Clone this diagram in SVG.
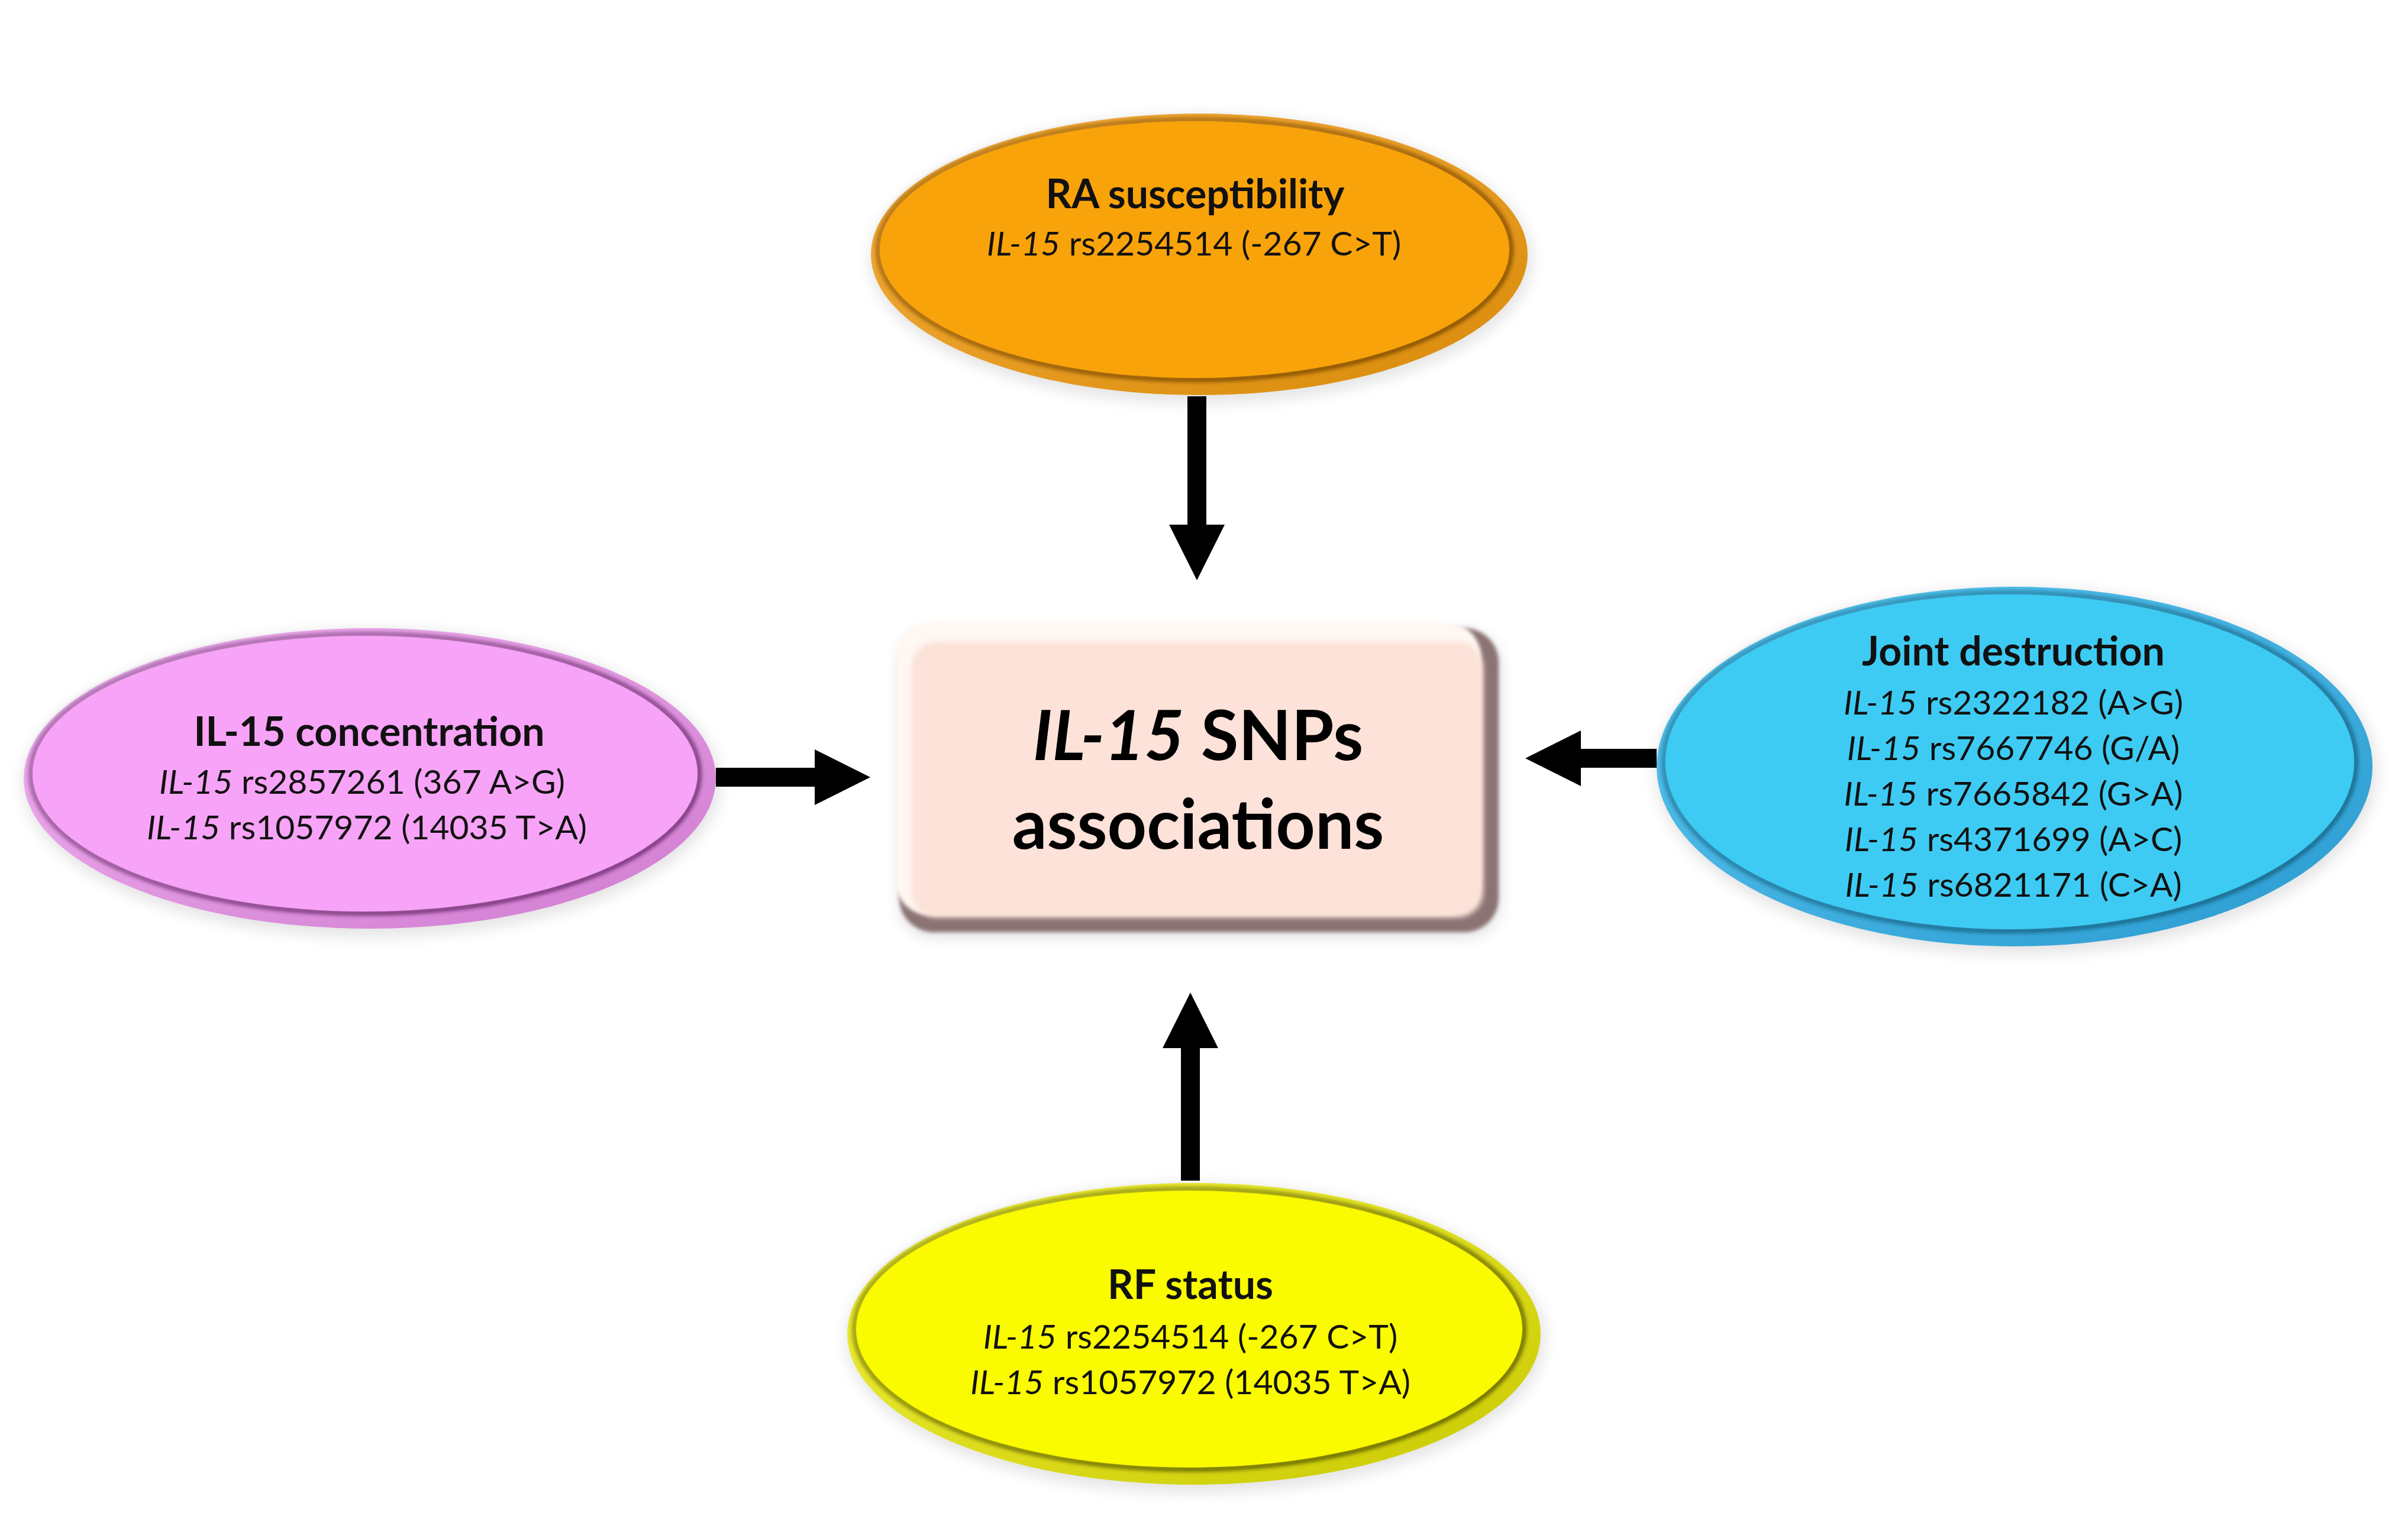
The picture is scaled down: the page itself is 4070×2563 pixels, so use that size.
<svg xmlns="http://www.w3.org/2000/svg" width="4070" height="2563" viewBox="0 0 4070 2563">
<style>
  .hd { font-family: Lato, "Liberation Sans", sans-serif; font-weight: bold; font-size: 68px; fill: #111; text-anchor: middle; }
  .ln { font-family: Lato, "Liberation Sans", sans-serif; font-weight: normal; font-size: 57px; fill: #111; text-anchor: middle; }
  .it { font-style: italic; }
  .ctr { font-family: Lato, "Liberation Sans", sans-serif; font-weight: bold; font-size: 116px; fill: #000; text-anchor: middle; }
  .shadow { fill: #000; opacity: 0.10; filter: url(#soft); }
  .conn { stroke: #000; stroke-width: 32; fill: none; marker-end: url(#head); }
</style>
<defs>
  <filter id="soft" x="-10%" y="-10%" width="120%" height="120%"><feGaussianBlur stdDeviation="12"/></filter>
  <filter id="bl" x="-5%" y="-5%" width="110%" height="110%"><feGaussianBlur stdDeviation="3"/></filter>
  <filter id="bl2" x="-5%" y="-5%" width="110%" height="110%"><feGaussianBlur stdDeviation="5"/></filter>
  <marker id="head" markerUnits="userSpaceOnUse" markerWidth="94" markerHeight="94" refX="0" refY="47" orient="auto">
    <path d="M0,0 L94,47 L0,94 Z" fill="#000"/>
  </marker>
  <linearGradient id="gOr" x1="0" y1="0" x2="1" y2="1"><stop offset="0" stop-color="#f6b040"/><stop offset="1" stop-color="#d88a08"/></linearGradient>
  <linearGradient id="lOr" x1="0" y1="0" x2="1" y2="1"><stop offset="0" stop-color="#8a5200" stop-opacity="0.5"/><stop offset="1" stop-color="#7a4800"/></linearGradient>
  <linearGradient id="gPk" x1="0" y1="0" x2="1" y2="1"><stop offset="0" stop-color="#f2b6f2"/><stop offset="1" stop-color="#d07ad0"/></linearGradient>
  <linearGradient id="lPk" x1="0" y1="0" x2="1" y2="1"><stop offset="0" stop-color="#7a3a7a" stop-opacity="0.5"/><stop offset="1" stop-color="#6a2a6a"/></linearGradient>
  <linearGradient id="gCy" x1="0" y1="0" x2="1" y2="1"><stop offset="0" stop-color="#5cc8f0"/><stop offset="1" stop-color="#2a9ad0"/></linearGradient>
  <linearGradient id="lCy" x1="0" y1="0" x2="1" y2="1"><stop offset="0" stop-color="#1a6e90" stop-opacity="0.5"/><stop offset="1" stop-color="#14607f"/></linearGradient>
  <linearGradient id="gYe" x1="0" y1="0" x2="1" y2="1"><stop offset="0" stop-color="#f4f440"/><stop offset="1" stop-color="#c8c800"/></linearGradient>
  <linearGradient id="lYe" x1="0" y1="0" x2="1" y2="1"><stop offset="0" stop-color="#6e6e00" stop-opacity="0.5"/><stop offset="1" stop-color="#5a5a00"/></linearGradient>
</defs>
<rect width="4070" height="2563" fill="#fff"/>

<g id="node-ra-susceptibility">
  <ellipse class="shadow" cx="2030" cy="438" rx="560" ry="244"/>
  <ellipse cx="2027" cy="430" rx="555" ry="238" fill="url(#gOr)"/>
  <ellipse cx="2019" cy="422" rx="535" ry="220" fill="none" stroke="url(#lOr)" stroke-width="8" filter="url(#bl)"/>
  <ellipse cx="2019" cy="422" rx="532" ry="217" fill="#f9a30b"/>
  <text class="hd" x="2020" y="352">RA susceptibility</text>
  <text class="ln" x="2018" y="432"><tspan class="it">IL-15</tspan> rs2254514 (-267 C&gt;T)</text>
</g>

<g id="node-il15-concentration">
  <ellipse class="shadow" cx="628" cy="1324" rx="590" ry="260"/>
  <ellipse cx="625" cy="1316" rx="585" ry="254" fill="url(#gPk)"/>
  <ellipse cx="617" cy="1308" rx="565" ry="236" fill="none" stroke="url(#lPk)" stroke-width="8" filter="url(#bl)"/>
  <ellipse cx="617" cy="1308" rx="562" ry="233" fill="#f7a3f7"/>
  <text class="hd" x="624" y="1261">IL-15 concentration</text>
  <text class="ln" x="612" y="1342"><tspan class="it">IL-15</tspan> rs2857261 (367 A&gt;G)</text>
  <text class="ln" x="620" y="1419"><tspan class="it">IL-15</tspan> rs1057972 (14035 T&gt;A)</text>
</g>

<g id="node-joint-destruction">
  <ellipse class="shadow" cx="3408" cy="1304" rx="610" ry="310"/>
  <ellipse cx="3405" cy="1296" rx="605" ry="304" fill="url(#gCy)"/>
  <ellipse cx="3397" cy="1288" rx="585" ry="286" fill="none" stroke="url(#lCy)" stroke-width="8" filter="url(#bl)"/>
  <ellipse cx="3397" cy="1288" rx="582" ry="283" fill="#3ecbf3"/>
  <text class="hd" x="3403" y="1125">Joint destruction</text>
  <text class="ln" x="3403" y="1208"><tspan class="it">IL-15</tspan> rs2322182 (A&gt;G)</text>
  <text class="ln" x="3403" y="1285"><tspan class="it">IL-15</tspan> rs7667746 (G/A)</text>
  <text class="ln" x="3403" y="1362"><tspan class="it">IL-15</tspan> rs7665842 (G&gt;A)</text>
  <text class="ln" x="3403" y="1439"><tspan class="it">IL-15</tspan> rs4371699 (A&gt;C)</text>
  <text class="ln" x="3403" y="1516"><tspan class="it">IL-15</tspan> rs6821171 (C&gt;A)</text>
</g>

<g id="node-rf-status">
  <ellipse class="shadow" cx="2021" cy="2263" rx="591" ry="261"/>
  <ellipse cx="2018" cy="2255" rx="586" ry="255" fill="url(#gYe)"/>
  <ellipse cx="2010" cy="2247" rx="566" ry="237" fill="none" stroke="url(#lYe)" stroke-width="8" filter="url(#bl)"/>
  <ellipse cx="2010" cy="2247" rx="563" ry="234" fill="#fafa00"/>
  <text class="hd" x="2012" y="2196">RF status</text>
  <text class="ln" x="2012" y="2280"><tspan class="it">IL-15</tspan> rs2254514 (-267 C&gt;T)</text>
  <text class="ln" x="2012" y="2357"><tspan class="it">IL-15</tspan> rs1057972 (14035 T&gt;A)</text>
</g>

<g id="node-il15-snps-associations">
  <rect x="1518" y="1066" width="1020" height="520" rx="60" fill="#000" opacity="0.10" filter="url(#soft)"/>
  <rect x="1520" y="1062" width="1013" height="514" rx="58" fill="#8b7373" filter="url(#bl)"/>
  <rect x="1513" y="1052" width="990" height="495" rx="58" fill="#fff7f2" filter="url(#bl)"/>
  <rect x="1540" y="1085" width="967" height="466" rx="44" fill="#fce2d8" filter="url(#bl2)"/>
  <text class="ctr" x="2025" y="1285"><tspan font-style="italic">IL-15</tspan> SNPs</text>
  <text class="ctr" x="2025" y="1435">associations</text>
</g>

<g id="connectors">
  <line class="conn" x1="2023" y1="670" x2="2023" y2="887"/>
  <line class="conn" x1="1210" y1="1314" x2="1377" y2="1314"/>
  <line class="conn" x1="2800" y1="1282" x2="2672" y2="1282"/>
  <line class="conn" x1="2012" y1="1996" x2="2012" y2="1772"/>
</g>
</svg>
